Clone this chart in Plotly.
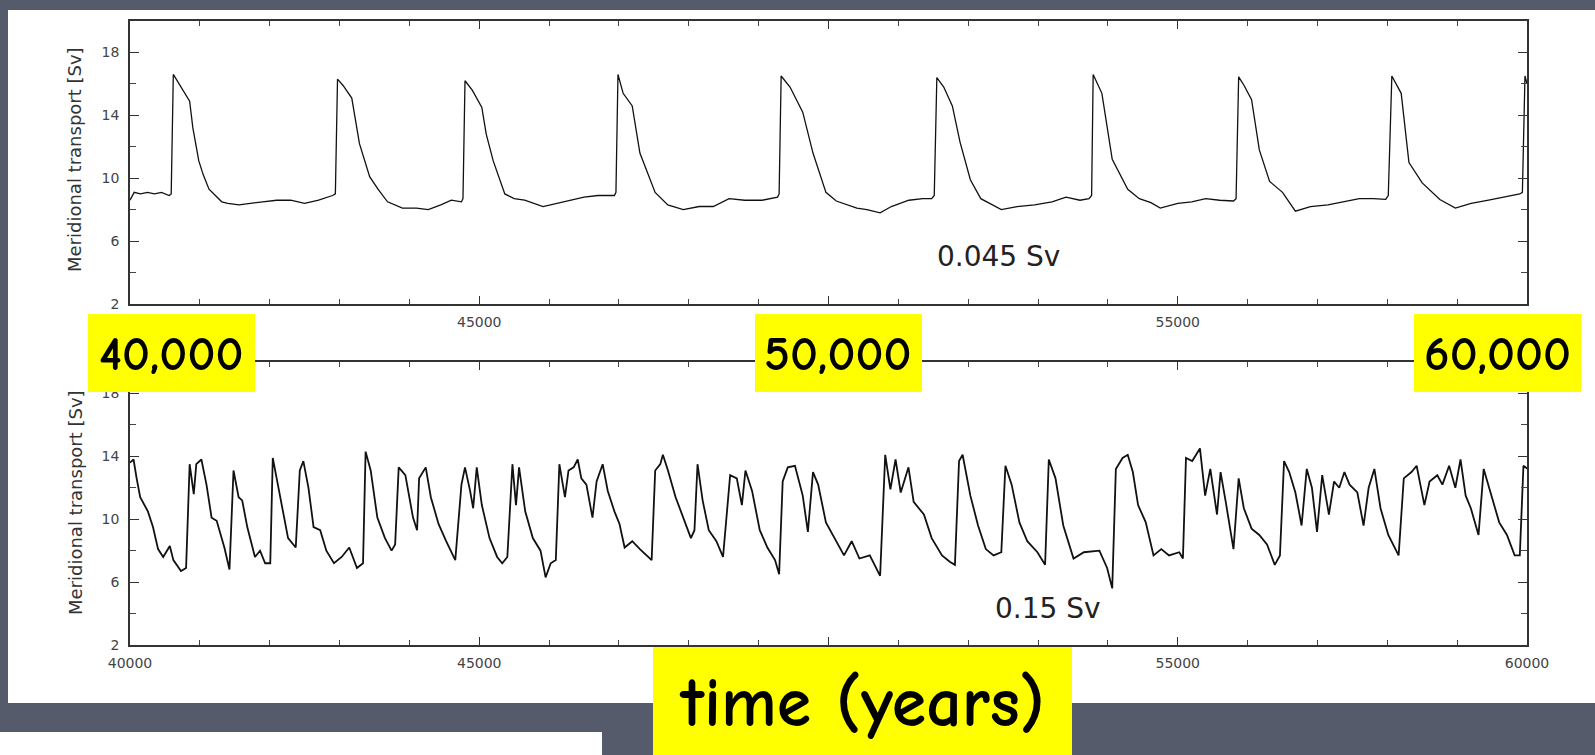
import plotly.graph_objects as go

# ---------------- data ----------------
top_t = [40000, 40060, 40150, 40250, 40350, 40450, 40560, 40590, 40620, 40700, 40854, 40900, 40985, 41050,
         41131, 41314, 41400, 41560, 41700, 41900, 42100, 42300, 42500, 42700, 42900, 42940, 42971, 43050,
         43175, 43230, 43285, 43431, 43550, 43687, 43900, 44100, 44270, 44450, 44600, 44745, 44767, 44796,
         44900, 45037, 45100, 45200, 45366, 45500, 45650, 45913, 46100, 46300, 46500, 46700, 46935, 46957,
         46986, 47060, 47190, 47300, 47518, 47700, 47920, 48150, 48350, 48577, 48800, 49050, 49271, 49293,
         49322, 49449, 49631, 49778, 49963, 50111, 50406, 50550, 50739, 50900, 51150, 51350, 51477, 51514,
         51551, 51650, 51773, 51883, 52031, 52180, 52474, 52700, 52950, 53200, 53400, 53600, 53730, 53767,
         53789, 53914, 54062, 54284, 54450, 54616, 54750, 55000, 55200, 55400, 55600, 55798, 55835, 55872,
         55950, 56057, 56168, 56315, 56500, 56684, 56900, 57150, 57400, 57600, 57800, 57977, 58014, 58065,
         58199, 58310, 58500, 58752, 58974, 59200, 59450, 59700, 59897, 59934, 59971, 60000]
top_v = [8.6, 9.1, 9.0, 9.1, 9.0, 9.1, 8.9, 9.0, 16.6, 16.0, 14.9, 13.2, 11.1, 10.2,
         9.3, 8.5, 8.4, 8.3, 8.4, 8.5, 8.6, 8.6, 8.4, 8.6, 8.9, 9.0, 16.3, 15.9,
         15.1, 13.5, 12.2, 10.1, 9.3, 8.5, 8.1, 8.1, 8.0, 8.3, 8.6, 8.5, 8.7, 16.2,
         15.6, 14.5, 12.8, 11.1, 9.0, 8.7, 8.6, 8.2, 8.4, 8.6, 8.8, 8.9, 8.9, 9.1,
         16.6, 15.4, 14.6, 11.6, 9.1, 8.3, 8.0, 8.2, 8.2, 8.7, 8.6, 8.6, 8.8, 9.0,
         16.5, 15.8, 14.2, 11.6, 9.1, 8.55, 8.1, 8.0, 7.8, 8.2, 8.6, 8.7, 8.7, 8.9,
         16.4, 15.8, 14.6, 12.3, 9.9, 8.7, 8.0, 8.2, 8.3, 8.5, 8.8, 8.6, 8.7, 8.9,
         16.6, 15.4, 11.2, 9.3, 8.7, 8.45, 8.1, 8.4, 8.5, 8.7, 8.6, 8.55, 8.7, 16.45,
         15.9, 15.0, 11.8, 9.8, 9.1, 7.9, 8.2, 8.3, 8.5, 8.7, 8.7, 8.65, 8.9, 16.5,
         15.4, 11.0, 9.7, 8.65, 8.1, 8.4, 8.6, 8.8, 9.0, 9.1, 16.5, 16.0]

bot_t = [40000, 40051, 40095, 40146, 40256, 40329, 40402, 40475, 40570, 40621, 40730, 40803, 40854, 40913,
         40949, 41022, 41095, 41168, 41241, 41351, 41424, 41482, 41555, 41606, 41679, 41789, 41862, 41935,
         42008, 42044, 42117, 42190, 42263, 42373, 42431, 42482, 42555, 42628, 42723, 42811, 42920, 43030,
         43139, 43249, 43336, 43373, 43446, 43541, 43650, 43745, 43796, 43847, 43942, 44052, 44110, 44139,
         44234, 44307, 44417, 44526, 44657, 44745, 44796, 44869, 44913, 44964, 45037, 45147, 45256, 45329,
         45402, 45475, 45526, 45570, 45658, 45767, 45877, 45950, 46023, 46096, 46147, 46227, 46278, 46351,
         46410, 46461, 46534, 46621, 46680, 46767, 46840, 46935, 47008, 47081, 47191, 47300, 47410, 47468,
         47519, 47592, 47629, 47702, 47811, 47921, 48030, 48081, 48125, 48198, 48286, 48395, 48490, 48592,
         48687, 48760, 48811, 48906, 49016, 49125, 49235, 49293, 49344, 49417, 49520, 49631, 49705, 49778,
         49852, 49963, 50111, 50222, 50332, 50443, 50591, 50739, 50812, 50886, 50960, 51034, 51145, 51219,
         51366, 51477, 51625, 51736, 51810, 51869, 51920, 52031, 52141, 52252, 52363, 52474, 52533, 52622,
         52733, 52846, 52991, 53101, 53154, 53250, 53361, 53508, 53656, 53878, 53989, 54062, 54114, 54210,
         54284, 54357, 54432, 54542, 54653, 54764, 54875, 55022, 55074, 55118, 55207, 55318, 55392, 55466,
         55562, 55613, 55687, 55798, 55872, 55946, 56057, 56167, 56278, 56389, 56463, 56522, 56596, 56684,
         56773, 56847, 56921, 56994, 57068, 57164, 57238, 57312, 57386, 57460, 57571, 57660, 57733, 57815,
         57903, 58014, 58162, 58236, 58346, 58420, 58531, 58605, 58716, 58789, 58885, 58974, 59048, 59122,
         59196, 59306, 59380, 59491, 59602, 59713, 59823, 59897, 59949, 60008]
bot_v = [13.6, 13.8, 12.6, 11.4, 10.5, 9.5, 8.1, 7.6, 8.3, 7.4, 6.7, 6.9, 13.5, 11.6,
         13.5, 13.8, 12.2, 10.1, 9.9, 8.2, 6.8, 13.1, 11.4, 11.2, 9.5, 7.6, 8.0, 7.2,
         7.2, 13.9, 12.2, 10.5, 8.8, 8.2, 13.1, 13.7, 12.0, 9.5, 9.3, 8.0, 7.2, 7.6,
         8.2, 6.9, 7.2, 14.3, 13.1, 10.1, 8.8, 8.0, 8.4, 13.3, 12.8, 10.1, 9.3, 12.6,
         13.3, 11.4, 9.7, 8.6, 7.4, 12.2, 13.3, 11.8, 10.7, 13.3, 10.9, 8.8, 7.6, 7.2,
         7.6, 13.5, 10.9, 13.3, 10.5, 8.8, 8.0, 6.3, 7.2, 7.4, 13.5, 11.4, 13.1, 13.3,
         13.8, 12.6, 12.2, 10.1, 12.4, 13.5, 11.8, 10.5, 9.7, 8.2, 8.6, 8.1, 7.6, 7.4,
         13.1, 13.5, 14.1, 13.1, 11.4, 10.1, 8.8, 9.3, 13.5, 11.2, 9.3, 8.6, 7.6, 12.8,
         12.6, 10.9, 13.1, 11.8, 9.3, 8.2, 7.4, 6.5, 12.4, 13.3, 13.4, 11.5, 9.2, 13.0,
         12.2, 9.8, 8.6, 7.7, 8.6, 7.5, 7.7, 6.4, 14.1, 11.9, 13.8, 11.7, 13.3, 11.1,
         10.3, 8.8, 7.7, 7.3, 7.1, 13.7, 14.1, 11.5, 9.6, 8.1, 7.7, 7.9, 13.4, 12.2,
         9.8, 8.6, 7.9, 7.1, 13.8, 12.6, 9.6, 7.5, 7.9, 8.0, 6.9, 5.6, 13.2, 13.9,
         14.1, 13.0, 10.9, 9.8, 7.7, 8.1, 7.7, 7.9, 7.5, 13.9, 13.7, 14.5, 11.5, 13.2,
         10.3, 13.0, 11.1, 8.1, 12.6, 10.7, 9.4, 9.0, 8.4, 7.1, 7.7, 13.7, 13.0, 11.7,
         9.6, 13.2, 12.0, 9.2, 12.8, 10.3, 12.4, 12.0, 13.0, 12.2, 11.7, 9.6, 12.0, 13.2,
         10.7, 9.0, 7.7, 12.6, 13.0, 13.4, 10.9, 12.4, 12.8, 12.2, 13.4, 12.0, 13.8, 11.5,
         10.7, 9.0, 13.2, 11.5, 9.8, 9.0, 7.7, 7.7, 13.4, 13.2]

x_ticks = [40000, 45000, 50000, 55000, 60000]
x_ticktext_top = ["", "45000", "", "55000", ""]            # 40000/50000/60000 hidden under the yellow boxes
x_ticktext_bot = ["40000", "45000", "", "55000", "60000"]  # 50000 hidden under the yellow box
y_ticks = [2, 6, 10, 14, 18]
y_title = "Meridional transport [Sv]"
top_label = "0.045 Sv"
bot_label = "0.15 Sv"
big_labels = ["40,000", "50,000", "60,000"]
xlabel_big = "time (years)"

# ---------------- geometry helpers ----------------
W, H = 1595, 755
def X(px):
    return px / W
def Y(py):
    return 1 - py / H

BG = "#555b6a"
SCAN_FONT = "DejaVu Sans, Liberation Sans, Arial, sans-serif"
HAND_FONT = "Comic Sans MS, Comic Neue, DejaVu Sans, sans-serif"

fig = go.Figure()
fig.add_trace(go.Scatter(x=top_t, y=top_v, mode="lines", line=dict(color="#111111", width=1.3),
                         xaxis="x", yaxis="y", showlegend=False, hoverinfo="skip"))
fig.add_trace(go.Scatter(x=bot_t, y=bot_v, mode="lines", line=dict(color="#111111", width=1.8),
                         xaxis="x2", yaxis="y2", showlegend=False, hoverinfo="skip"))

def xaxis(anchor, ticktext):
    return dict(domain=[X(130), X(1527)], range=[40000, 60000], anchor=anchor, automargin=False,
                tickvals=x_ticks, ticktext=ticktext, ticks="inside", ticklen=8, tickwidth=1.3,
                tickcolor="#333", showline=True, linecolor="#333", linewidth=1.5, mirror="ticks",
                showgrid=False, zeroline=False, ticklabelstandoff=4,
                tickfont=dict(family=SCAN_FONT, size=14, color="#444"),
                minor=dict(dtick=1000, tick0=40000, ticks="inside", ticklen=5, tickcolor="#444", tickwidth=1))

def yaxis(anchor, dom):
    return dict(domain=dom, range=[2, 20], anchor=anchor, automargin=False,
                tickvals=y_ticks, ticks="inside", ticklen=9, tickwidth=1.3, tickcolor="#333",
                showline=True, linecolor="#333", linewidth=1.5, mirror="ticks",
                showgrid=False, zeroline=False, ticklabelstandoff=6,
                tickfont=dict(family=SCAN_FONT, size=14, color="#444"),
                minor=dict(dtick=2, tick0=0, ticks="inside", ticklen=6, tickcolor="#444", tickwidth=1))

shapes = [
    # white scanned page
    dict(type="rect", xref="paper", yref="paper", x0=X(8), x1=X(1595), y0=Y(703), y1=Y(10),
         fillcolor="white", line=dict(width=0), layer="below"),
    dict(type="rect", xref="paper", yref="paper", x0=X(0), x1=X(602), y0=Y(755), y1=Y(732),
         fillcolor="white", line=dict(width=0), layer="below"),
    # yellow label boxes
    dict(type="rect", xref="paper", yref="paper", x0=X(88), x1=X(255), y0=Y(392), y1=Y(314),
         fillcolor="#ffff00", line=dict(width=0), layer="above"),
    dict(type="rect", xref="paper", yref="paper", x0=X(755), x1=X(922), y0=Y(392), y1=Y(314),
         fillcolor="#ffff00", line=dict(width=0), layer="above"),
    dict(type="rect", xref="paper", yref="paper", x0=X(1414), x1=X(1581), y0=Y(392), y1=Y(314),
         fillcolor="#ffff00", line=dict(width=0), layer="above"),
    dict(type="rect", xref="paper", yref="paper", x0=X(653), x1=X(1072), y0=Y(755), y1=Y(647),
         fillcolor="#ffff00", line=dict(width=0), layer="above"),
]

annotations = [
    dict(text=y_title, xref="paper", yref="paper", x=X(75), y=Y(160), textangle=-90, showarrow=False,
         font=dict(family=SCAN_FONT, size=18, color="#333"), xanchor="center", yanchor="middle"),
    dict(text=y_title, xref="paper", yref="paper", x=X(75), y=Y(503), textangle=-90, showarrow=False,
         font=dict(family=SCAN_FONT, size=18, color="#333"), xanchor="center", yanchor="middle"),
    dict(text=top_label, xref="x", yref="y", x=52440, y=5.0, showarrow=False,
         font=dict(family=SCAN_FONT, size=28, color="#222"), xanchor="center", yanchor="middle"),
    dict(text=bot_label, xref="x2", yref="y2", x=53140, y=4.3, showarrow=False,
         font=dict(family=SCAN_FONT, size=28, color="#222"), xanchor="center", yanchor="middle"),
    dict(text="<b>" + xlabel_big + "</b>", xref="paper", yref="paper", x=X(862), y=Y(703), showarrow=False,
         font=dict(family=HAND_FONT, size=70, color="black"), xanchor="center", yanchor="middle"),
]
box_centers = [171, 838, 1497]
for lab, cx in zip(big_labels, box_centers):
    annotations.append(dict(text="<b>" + lab + "</b>", xref="paper", yref="paper", x=X(cx), y=Y(354),
                            showarrow=False, font=dict(family=HAND_FONT, size=49, color="black"),
                            xanchor="center", yanchor="middle"))

fig.update_layout(
    width=W, height=H, autosize=False,
    margin=dict(l=0, r=0, t=0, b=0, pad=0, autoexpand=False),
    paper_bgcolor=BG, plot_bgcolor="white",
    xaxis=xaxis("y", x_ticktext_top), yaxis=yaxis("x", [Y(304), Y(21)]),
    xaxis2=xaxis("y2", x_ticktext_bot), yaxis2=yaxis("x2", [Y(645), Y(362)]),
    shapes=shapes, annotations=annotations, showlegend=False,
)

fig.write_html("out.html", config={"displayModeBar": False},
               post_script="document.body.style.margin='0';document.body.style.padding='0';"
                           "document.body.style.background='" + BG + "';"
                           "document.body.style.overflow='hidden';")
